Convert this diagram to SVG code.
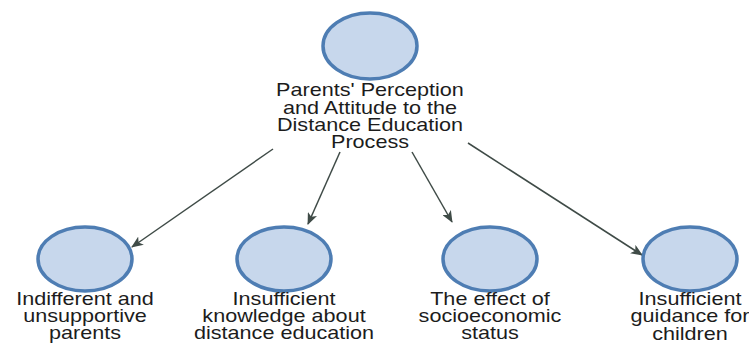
<svg xmlns="http://www.w3.org/2000/svg" width="749" height="343" viewBox="0 0 749 343">
<style>
.node{fill:#c7d7ec;stroke:#4e7db3;stroke-width:3.5}
.lbl{font-family:"Liberation Sans",Arial,sans-serif;font-size:18px;fill:#1c1c1c;text-anchor:middle}
.edge{stroke:#3f4b47;stroke-width:1.5;fill:none;marker-end:url(#ah)}
</style>
<defs>
<marker id="ah" viewBox="0 0 12 10" refX="11" refY="5" markerWidth="12" markerHeight="10" markerUnits="userSpaceOnUse" orient="auto">
<path d="M0,0 L12,5 L0,10 L3,5 z" fill="#3f4b47"/>
</marker>
</defs>
<rect width="749" height="343" fill="#ffffff"/>
<g id="connectors">
<line class="edge" x1="273" y1="149" x2="132" y2="247"/>
<line class="edge" x1="340" y1="152" x2="308" y2="224"/>
<line class="edge" x1="412" y1="152" x2="452" y2="222"/>
<line class="edge" x1="468" y1="143" x2="642" y2="255"/>
</g>
<g id="root">
<ellipse class="node" cx="370" cy="46" rx="47" ry="33"/>
<g transform="translate(370,0) scale(1.2,1)">
<text class="lbl" x="0" y="96">Parents' Perception</text>
<text class="lbl" x="0" y="114">and Attitude to the</text>
<text class="lbl" x="0" y="131">Distance Education</text>
<text class="lbl" x="0" y="148">Process</text>
</g>
</g>
<g id="n1">
<ellipse class="node" cx="85" cy="259" rx="47" ry="32"/>
<g transform="translate(85,0) scale(1.2,1)">
<text class="lbl" x="0" y="305">Indifferent and</text>
<text class="lbl" x="0" y="322">unsupportive</text>
<text class="lbl" x="0" y="339">parents</text>
</g>
</g>
<g id="n2">
<ellipse class="node" cx="284" cy="259" rx="47" ry="32"/>
<g transform="translate(284,0) scale(1.2,1)">
<text class="lbl" x="0" y="305">Insufficient</text>
<text class="lbl" x="0" y="322">knowledge about</text>
<text class="lbl" x="0" y="339">distance education</text>
</g>
</g>
<g id="n3">
<ellipse class="node" cx="490" cy="259" rx="47" ry="32"/>
<g transform="translate(490,0) scale(1.2,1)">
<text class="lbl" x="0" y="305">The effect of</text>
<text class="lbl" x="0" y="322">socioeconomic</text>
<text class="lbl" x="0" y="339">status</text>
</g>
</g>
<g id="n4">
<ellipse class="node" cx="690" cy="259" rx="47" ry="32"/>
<g transform="translate(690,0) scale(1.2,1)">
<text class="lbl" x="0" y="305">Insufficient</text>
<text class="lbl" x="0" y="322">guidance for</text>
<text class="lbl" x="0" y="340">children</text>
</g>
</g>
</svg>
